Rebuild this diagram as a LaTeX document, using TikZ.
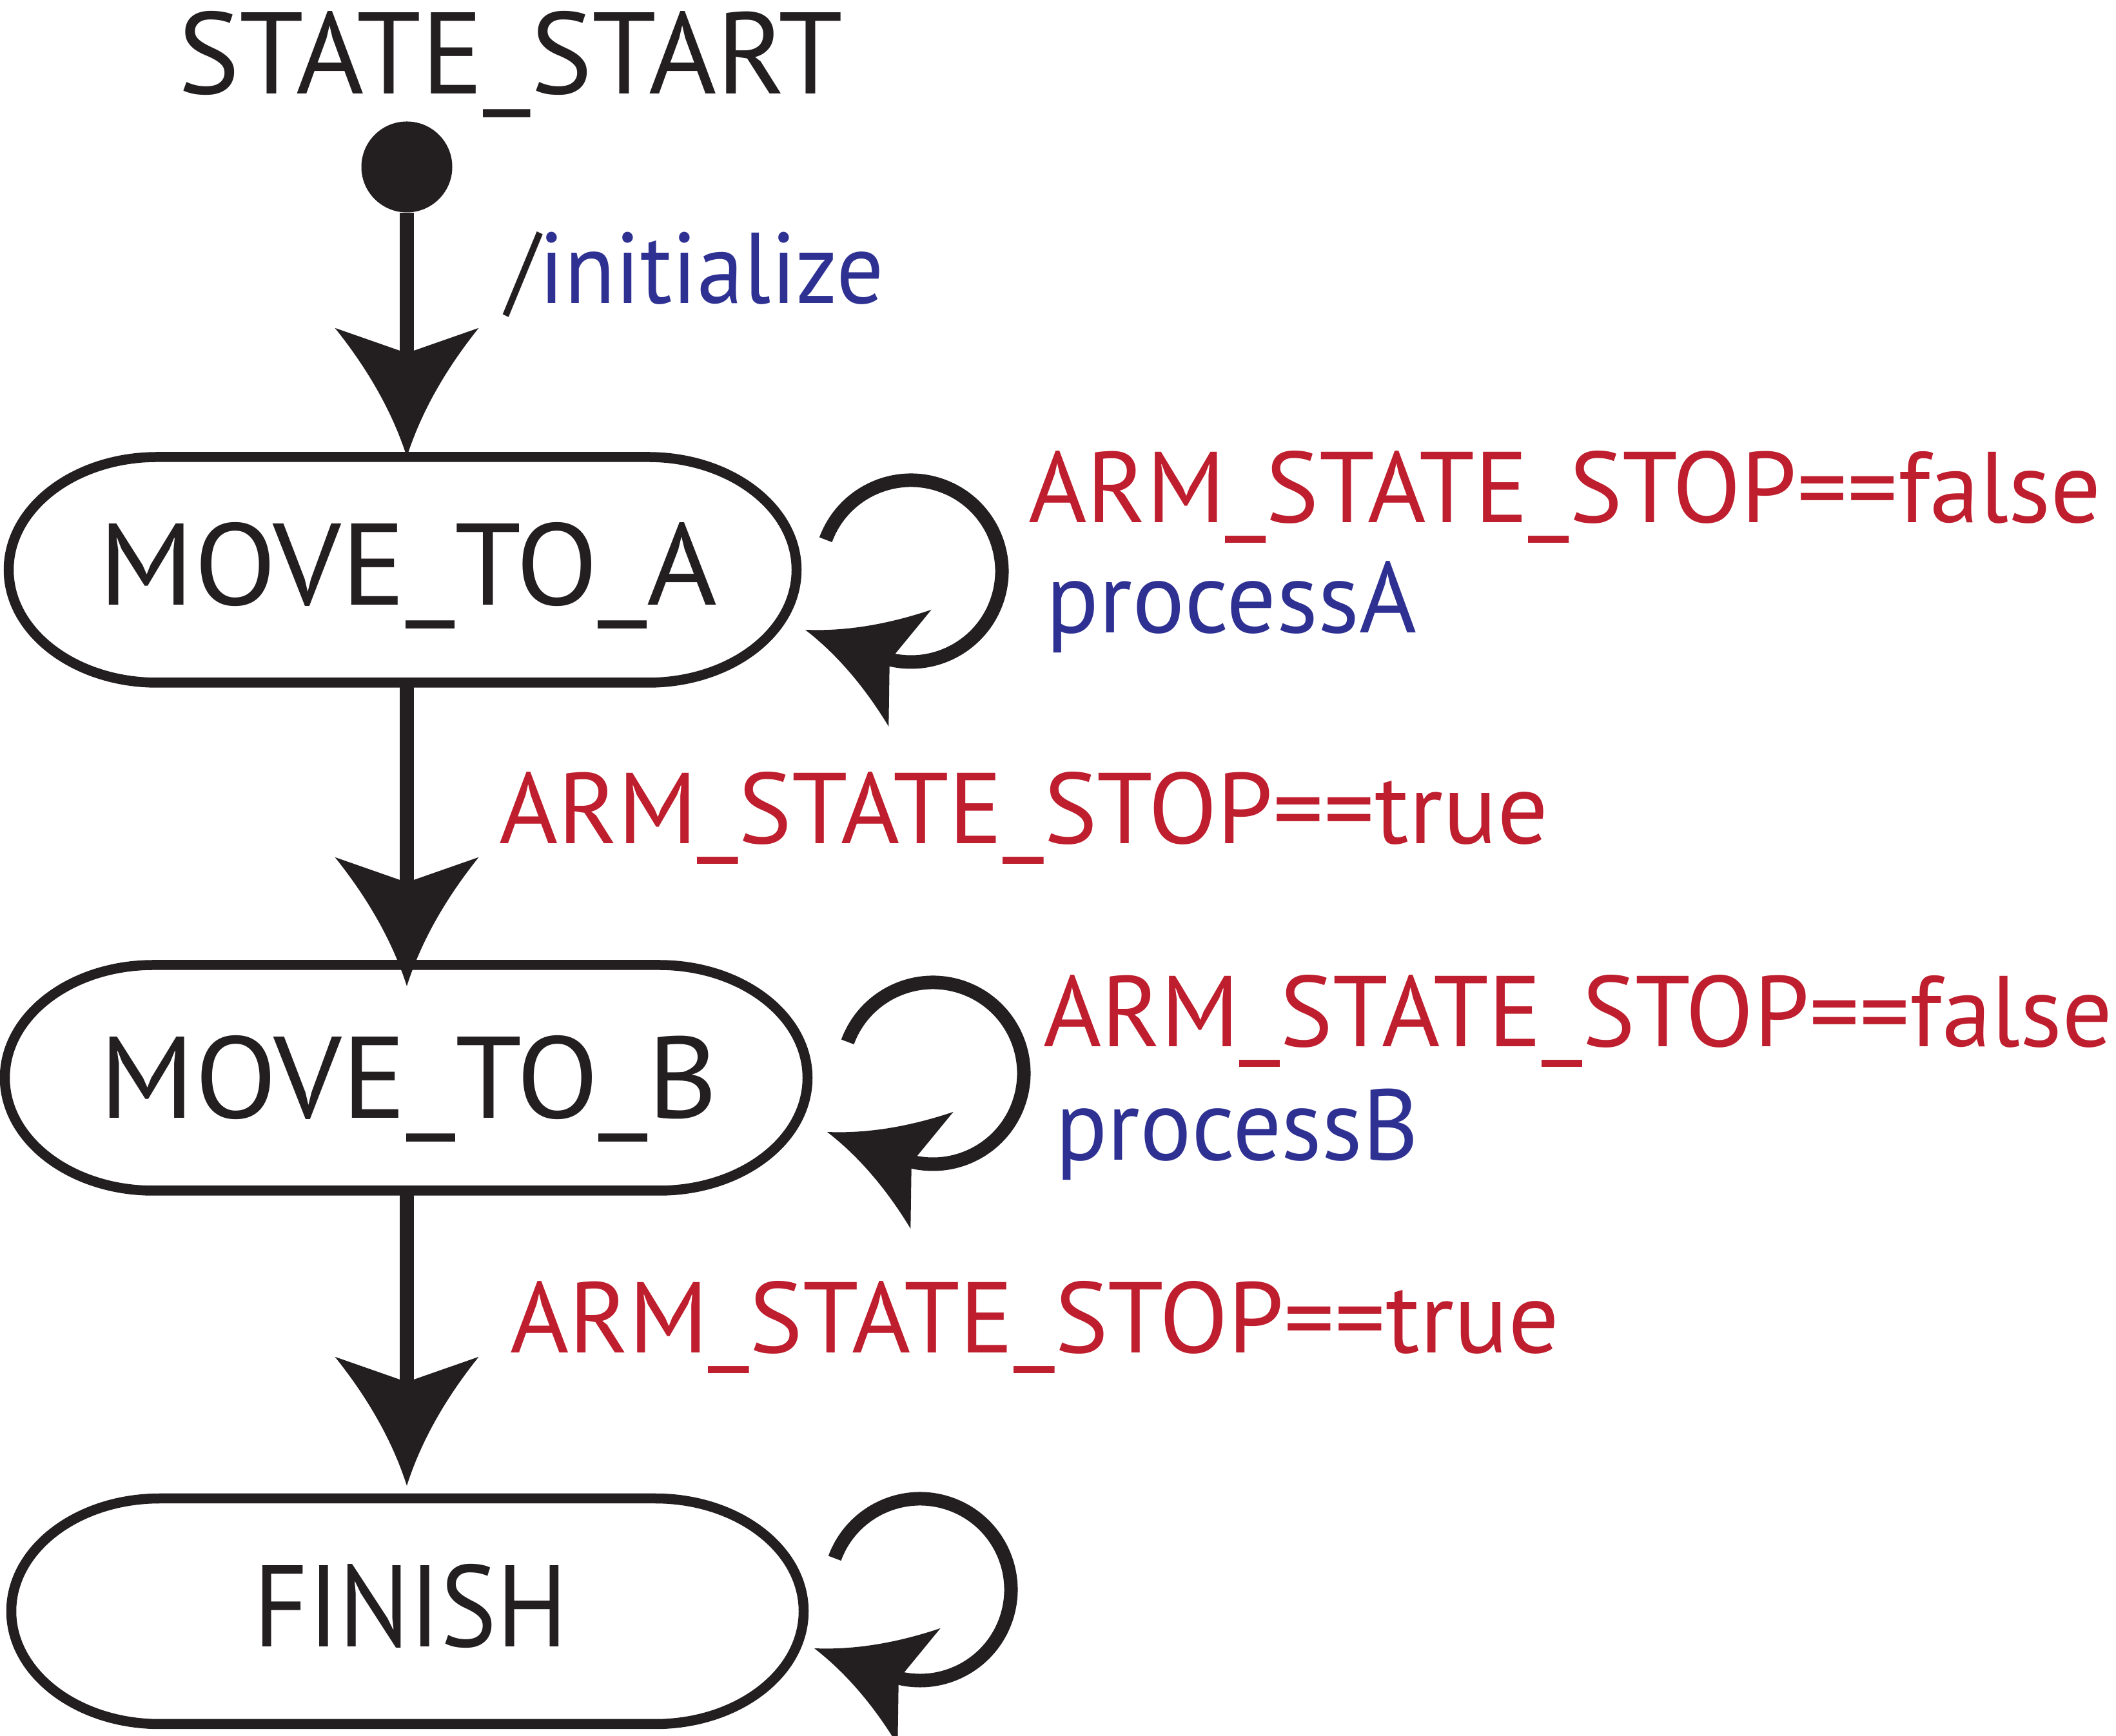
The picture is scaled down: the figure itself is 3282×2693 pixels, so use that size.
\documentclass[tikz,border=0pt]{standalone}
\usepackage{graphicx}
\usepackage{fontspec}
\setmainfont{PT Sans}
\usetikzlibrary{calc}
\definecolor{ink}{HTML}{231F20}
\definecolor{guardred}{HTML}{BE1E2D}
\definecolor{actblue}{HTML}{2E3192}
\tikzset{
  stateline/.style={draw=ink, line width=15.5pt},
  conn/.style={draw=ink, line width=22pt},
  loopline/.style={draw=ink, line width=21pt},
  statebox/.style={inner sep=0pt, minimum width=1222pt, minimum height=350pt, text depth=16pt,
    font=\fontsize{180}{200}\selectfont, text=ink},
  titletxt/.style={inner sep=0pt, anchor=base, font=\fontsize{180}{200}\selectfont, text=ink},
  guardtxt/.style={inner sep=0pt, anchor=base west, font=\fontsize{156}{180}\selectfont, text=guardred},
  acttxt/.style={inner sep=0pt, anchor=base west, font=\fontsize{156}{180}\selectfont, text=actblue},
}
\newcommand\stadium[4]{%
  \draw[stateline] (#1-#3+230,#2+#4) -- (#1+#3-230,#2+#4)
    arc[start angle=90,end angle=-90,x radius=230,y radius=#4]
    -- (#1-#3+230,#2-#4)
    arc[start angle=270,end angle=90,x radius=230,y radius=#4] -- cycle;}
\newcommand\arrowtip[3]{%
  \fill[ink, shift={#1}, rotate=#2, scale=#3]
    (0,0) .. controls (-67,21.3) and (-133.7,58.4) .. (-200,111.5)
    -- (-161,0) -- (-200,-111.5)
    .. controls (-133.7,-58.4) and (-67,-21.3) .. (0,0) -- cycle;}
\newcommand\wsc[2]{\scalebox{#1}[1]{#2}}
\begin{document}
\begin{tikzpicture}[x=1pt,y=1pt]
\useasboundingbox (0,0) rectangle (3282,2693);
% title and initial state
\node[titletxt] (title) at (792,2547) {STATE\_START};
\node[circle, fill=ink, inner sep=0pt, minimum size=141pt] (start) at (631,2434) {};
% states
\node[statebox, text height=126pt] (A) at (633,1809) {\wsc{1.035}{MOVE\_TO\_A}};
\stadium{624.5}{1809}{611}{175}
\node[statebox, text height=142pt] (B) at (634,1021) {\wsc{1.035}{MOVE\_TO\_B}};
\stadium{630}{1021}{622.5}{175}
\node[statebox, text height=127pt] (F) at (637,193.5) {\wsc{0.91}{FINISH}};
\stadium{632}{193.5}{614.5}{175}
% straight transitions
\coordinate (t1) at (start |- A.north);
\coordinate (t2) at ($(start |- B.north)+(0,-33)$);
\coordinate (t3) at ($(start |- F.north)+(0,19.5)$);
\draw[conn] (start.south) -- ($(t1)+(0,150)$);
\arrowtip{(t1)}{-90}{1}
\draw[conn] (start |- A.south) -- ($(t2)+(0,150)$);
\arrowtip{(t2)}{-90}{1}
\draw[conn] (start |- B.south) -- ($(t3)+(0,150)$);
\arrowtip{(t3)}{-90}{1}
% self loops
\coordinate (cA) at (1413,1807);
\coordinate (tA) at (1249,1716);
\draw[loopline] (cA) ++(159.8:141) arc[start angle=159.8, end angle=-103.4, radius=141];
\arrowtip{(tA)}{159.9}{0.865}
\coordinate (cB) at (1447,1028);
\coordinate (tB) at (1283,937);
\draw[loopline] (cB) ++(159.8:141) arc[start angle=159.8, end angle=-103.4, radius=141];
\arrowtip{(tB)}{159.9}{0.865}
\coordinate (cF) at (1427,227);
\coordinate (tF) at (1263,136);
\draw[loopline] (cF) ++(159.8:141) arc[start angle=159.8, end angle=-103.4, radius=141];
\arrowtip{(tF)}{159.9}{0.865}
% labels
\node[acttxt] (init) at (785,2222) {\wsc{0.93}{\textcolor{ink}{/}initialize}};
\node[guardtxt] (gA) at (1595,1882) {\wsc{0.993}{ARM\_STATE\_STOP==false}};
\node[acttxt] (pA) at (1622,1711) {\wsc{0.975}{processA}};
\node[guardtxt] (g1) at (774,1384) {ARM\_STATE\_STOP==true};
\node[guardtxt] (gB) at (1618,1069) {\wsc{0.99}{ARM\_STATE\_STOP==false}};
\node[acttxt] (pB) at (1637,893) {\wsc{0.955}{processB}};
\node[guardtxt] (g2) at (791,594) {ARM\_STATE\_STOP==true};
\end{tikzpicture}
\end{document}
